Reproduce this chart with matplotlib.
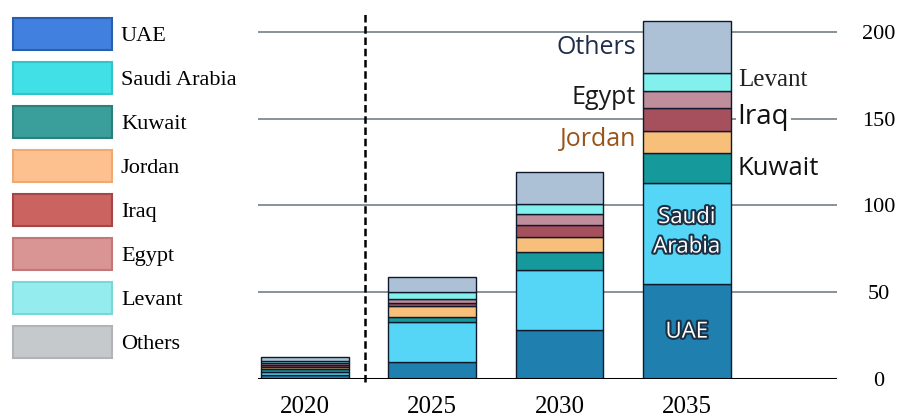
import numpy as np
import matplotlib
matplotlib.use("Agg")
import matplotlib.pyplot as plt
from matplotlib.patches import Patch
import matplotlib.patheffects as pe

years = ["2020", "2025", "2030", "2035"]
countries = ["UAE", "Saudi Arabia", "Kuwait", "Jordan", "Iraq", "Egypt", "Levant", "Others"]

# stacked values per country (bottom -> top)
uae = [2.5, 10, 28, 55]
saudi = [1.5, 23, 35, 58]
kuwait = [1.5, 3, 10, 17]
jordan = [1.5, 6, 9, 13]
iraq = [1, 2, 7, 13]
egypt = [1, 2, 6, 10]
levant = [1.5, 4, 6, 10]
others = [2, 9, 18, 30]
series = [uae, saudi, kuwait, jordan, iraq, egypt, levant, others]

bar_colors = ["#1f7fae", "#55d6f6", "#15999b", "#f8bf7a", "#a6505e",
              "#bf8d9b", "#82f0ec", "#adc1d6"]
leg_colors = ["#4180de", "#40e0e6", "#3a9e9b", "#fdc08f", "#cb6360",
              "#d99593", "#94ecee", "#c5c9cc"]
leg_edges = ["#2a5fb0", "#33c4c9", "#2b7f7c", "#efaa73", "#a54545",
             "#c27878", "#7bd6d8", "#b0b4b8"]

serif = "Liberation Serif"
sans = "Open Sans"

fig = plt.figure(figsize=(9.03, 4.19), dpi=100)
ax = fig.add_axes([258 / 903, 40 / 419, 579 / 903, 368 / 419])

x = np.arange(len(years))
bottom = np.zeros(len(years))
for vals, col in zip(series, bar_colors):
    ax.bar(x, vals, width=0.69, bottom=bottom, color=col,
           edgecolor="#0e1a2b", linewidth=1.0, zorder=3)
    bottom += np.array(vals)

ax.set_xlim(-0.37, 4.18)
ax.set_ylim(0, 212)

# grid + baseline
for v in [50, 100, 150, 200]:
    ax.axhline(v, color="#7d8a90", lw=1.3, zorder=1)
ax.axhline(0, color="black", lw=2.2, zorder=4)

# dashed divider between 2020 and projections
ax.plot([0.47, 0.47], [-2, 212], color="black", lw=1.8, ls=(0, (3, 1.5)),
        clip_on=False, zorder=5)

for s in ax.spines.values():
    s.set_visible(False)
ax.set_xticks(x)
ax.set_xticklabels(years, fontfamily=serif, fontsize=18)
ax.tick_params(axis="x", length=0, pad=12)
ax.yaxis.tick_right()
ax.set_yticks([0, 50, 100, 150, 200])
ax.tick_params(axis="y", length=0, pad=30, labelsize=16)
for lab in ax.get_yticklabels():
    lab.set_fontfamily(serif)
    lab.set_horizontalalignment("center")

# segment labels for 2035 bar
ax.text(2.6, 191, "Others", ha="right", va="center", fontfamily=sans,
        fontsize=18, color="#1f2d4a", zorder=6)
ax.text(2.6, 162, "Egypt", ha="right", va="center", fontfamily=sans,
        fontsize=18, color="#1a1a1a", zorder=6)
ax.text(2.6, 138, "Jordan", ha="right", va="center", fontfamily=sans,
        fontsize=18, color="#9a5418", zorder=6)
ax.text(3.4, 172, "Levant", ha="left", va="center", fontfamily=serif,
        fontsize=18, color="#222222", zorder=6)
ax.text(3.4, 151, "Iraq", ha="left", va="center", fontfamily=sans,
        fontsize=20, color="#111111", zorder=6,
        bbox=dict(facecolor="white", edgecolor="none", pad=1))
ax.text(3.4, 121.5, "Kuwait", ha="left", va="center", fontfamily=sans,
        fontsize=18.5, color="#111111", zorder=6)

outline = [pe.withStroke(linewidth=3, foreground="#1b2f45")]
ax.text(3, 93, "Saudi", ha="center", va="center", fontfamily=sans,
        fontsize=16, color="white", path_effects=outline, zorder=6)
ax.text(3, 76, "Arabia", ha="center", va="center", fontfamily=sans,
        fontsize=16, color="white", path_effects=outline, zorder=6)
ax.text(3, 27, "UAE", ha="center", va="center", fontfamily=sans,
        fontsize=16, color="white", path_effects=outline, zorder=6)

handles = [Patch(facecolor=c, edgecolor=e, linewidth=1.5)
           for c, e in zip(leg_colors, leg_edges)]
fig.legend(handles, countries, loc="upper left",
           bbox_to_anchor=(13 / 903, 1 - 18 / 419), frameon=False,
           prop={"family": serif, "size": 16}, handlelength=4.46,
           handleheight=1.84, labelspacing=0.54, handletextpad=0.4,
           borderpad=0, borderaxespad=0)

fig.savefig("out.png", dpi=100, facecolor="white")
